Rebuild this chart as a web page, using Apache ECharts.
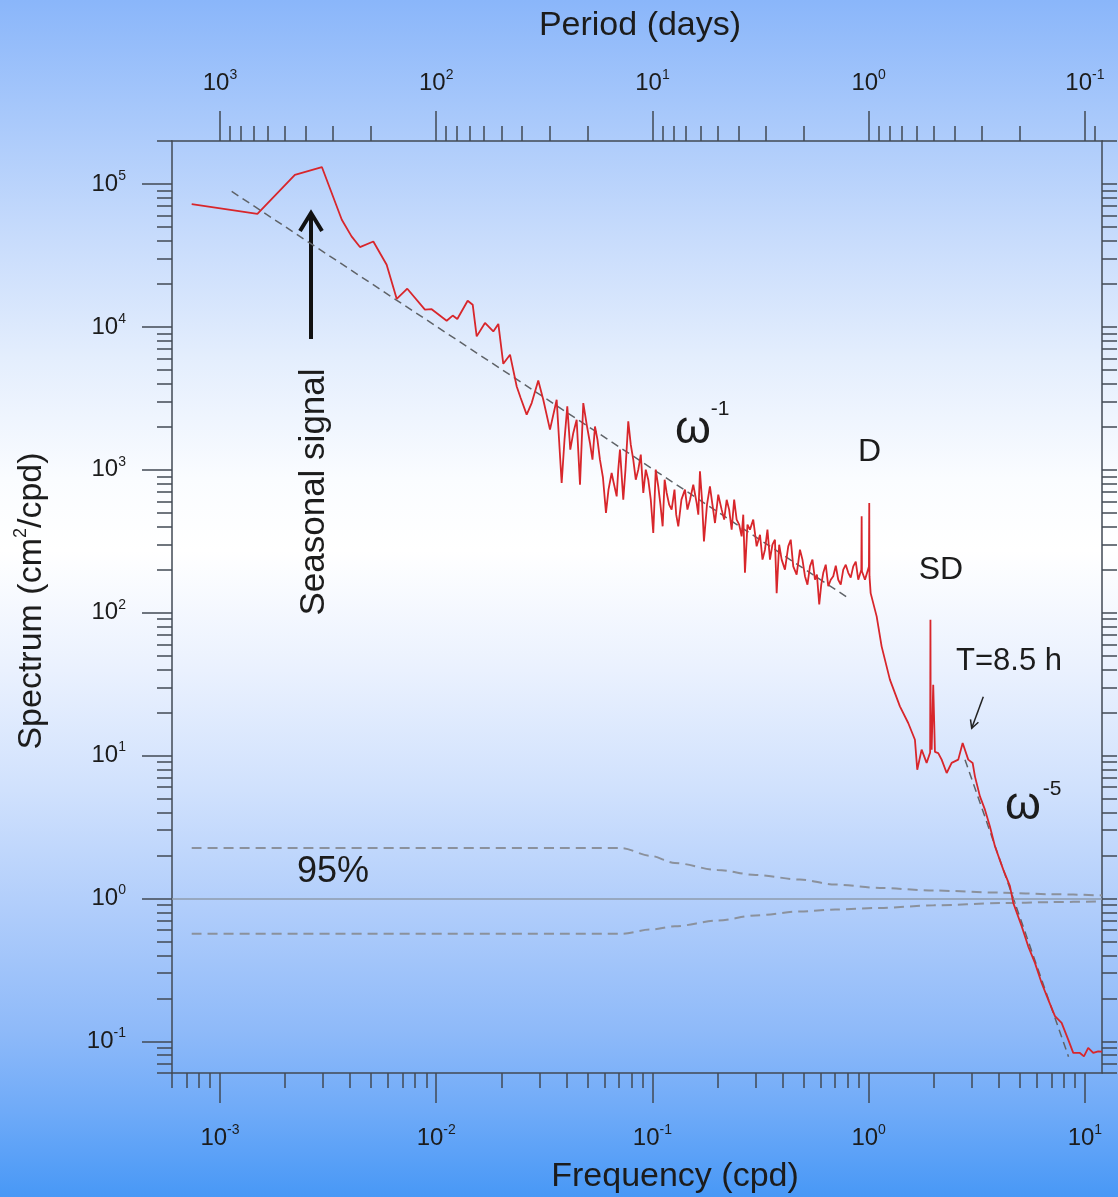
<!DOCTYPE html>
<html><head><meta charset="utf-8">
<script src="https://cdn.jsdelivr.net/npm/echarts@6/dist/echarts.min.js"></script>
<style>html,body{margin:0;padding:0;width:1118px;height:1197px;overflow:hidden}#c{width:1118px;height:1197px}</style>
</head><body><div id="c"></div><script>
// ---------- data ----------
const freq = [0.00074,0.00149,0.00222,0.00296,0.00366,0.00406,0.00444,0.00512,0.0059,0.00657,
0.00735,0.00887,0.00953,0.01118,0.01192,0.01252,0.01398,0.01475,0.01539,0.01681,
0.01837,0.01938,0.02043,0.02195,0.02357,0.02459,0.02621,0.02764,0.02965,0.03128,
0.03359,0.03607,
0.03804,0.03921,0.04039,0.0417,0.04305,0.04463,0.04624,0.04789,0.04966,0.05142,
0.05282,0.05424,0.05569,0.05719,0.05906,0.06098,0.06264,0.06478,0.06604,0.06835,
0.0695,0.07078,0.07331,0.07505,0.07732,0.07941,0.08155,0.08375,0.08602,0.08834,
0.09073,0.09315,0.09567,0.09826,0.1009,0.1036,0.1064,0.1089,0.1115,0.1139,
0.1164,0.1195,0.1227,0.1265,0.1288,0.1317,0.1362,0.1414,0.1452,0.1492,
0.1545,0.1602,0.163,0.1659,0.1695,0.1731,0.1788,0.1845,0.1895,0.1947,
0.2016,0.209,0.2147,0.2205,0.2264,0.2325,0.2388,0.2452,0.2519,0.2586,
0.2631,0.2679,0.2751,0.2825,0.2926,0.3034,0.3144,0.3229,0.3315,0.3404,
0.3497,0.359,0.3687,0.3755,0.3856,0.396,0.4101,0.4248,0.4362,0.448,
0.4645,0.4812,0.4941,0.5075,0.5212,0.5353,0.5497,0.5646,0.5766,0.5908,
0.6036,0.6168,0.6332,0.6504,0.6679,0.686,0.7047,0.7234,0.743,0.7631,
0.7837,0.8049,0.8263,0.8488,0.8717,0.8952,
0.925,0.9282,0.931,0.9614,1.003,1.0064,1.009,1.0215,1.089,
1.148,1.254,1.395,1.524,1.637,1.678,1.758,1.854,1.925,1.931,
1.937,1.956,1.989,2.026,2.098,2.176,2.295,2.42,2.597,2.721,
2.888,3.026,3.101,3.271,3.45,3.638,3.837,4.193,4.502,4.664,
5.101,5.47,5.875,6.31,6.768,7.27,7.806,8.375,8.834,9.487,
9.899,10.36,10.93,11.53,11.99];
const spec = [72400,61900,116000,131500,56200,43000,36200,39600,27200,15700,
18500,13200,13300,11050,12000,11350,15250,14300,8580,10650,
9300,10480,5520,6390,3830,3180,2430,2930,4220,3090,
1910,3090,
808,1624,2780,1383,1810,2242,787,2930,2068,1540,
1177,2010,1624,1177,880,499,726,950,825,651,
1002,1383,617,1002,2181,1498,1177,852,1002,1276,
688,1002,852,618,361,1002,765,570,402,852,
688,570,526,726,485,402,618,726,526,617,
786,585,485,975,618,315,570,765,570,424,
669,526,448,617,526,381,618,448,413,342,
485,190,413,381,448,291,351,235,276,381,
235,299,324,137,299,235,200,291,324,211,
184.5,276,235,180,157,211,235,170,184.5,114,
157,190,216.7,153,170,180,213,170,157,200,
216.7,190,175.8,211,227.5,170,
200,472,195,170,210,586,180,137,94.2,
58.1,34.0,22.1,16.9,12.9,7.96,11.0,8.88,10.5,89.3,
12.0,11.0,31.3,10.6,10.4,9.36,7.55,8.88,9.36,12.25,
9.36,8.88,7.15,5.18,4.18,3.19,2.32,1.59,1.22,0.93,
0.638,0.462,0.354,0.256,0.196,0.150,0.1345,0.1027,0.0829,0.0829,
0.0785,0.0899,0.0829,0.0851,0.0846];
// omega^-1 and omega^-5 reference slopes (end points)
const fitLowFreq = [0.001133, 0.805];
const fitLowSpec = [88750, 126.7];
const fitHighFreq = [2.79, 8.40];
const fitHighSpec = [9.35, 0.078];
// 95% confidence band
const ciFreq  = [0.00074, 0.0722, 0.0974, 0.127, 0.2, 0.3, 0.481, 0.7, 1.127, 2.0, 4.05, 7.0, 12.0];
const ciUpper = [2.25, 2.25, 1.99, 1.77, 1.58, 1.46, 1.355, 1.25, 1.184, 1.135, 1.098, 1.07, 1.05];
const ciLower = [0.565, 0.565, 0.605, 0.638, 0.70, 0.76, 0.81, 0.835, 0.858, 0.895, 0.927, 0.942, 0.955];
// axes
const freqRange = [6e-4, 12];
const specRange = [0.06, 2e5];
const freqDecades = [-3, -2, -1, 0, 1];
const periodDecades = [3, 2, 1, 0, -1];
const specDecades = [-1, 0, 1, 2, 3, 4, 5];
const minorMult = [2, 3, 4, 5, 6, 7, 8, 9];

if (freq.length !== spec.length) throw new Error('length mismatch ' + freq.length + ' vs ' + spec.length);

// ---------- build ----------
const L = Math.log10;
const XMIN = L(freqRange[0]), XMAX = L(freqRange[1]);
const YMIN = L(specRange[0]), YMAX = L(specRange[1]);
const FF = '"Liberation Sans", Arial, Helvetica, sans-serif';
const TXT = '#1c1c1c';
const AX = '#424a54';
const EPS = 1e-7;

function minorLogs(lo, hi, n0, n1, sign) {
  const out = [];
  for (let n = n0; n <= n1; n++) for (const k of minorMult) {
    const v = sign * (L(k) + n);
    if (v >= lo - EPS && v <= hi + EPS) out.push(v);
  }
  return out;
}
const xMajor = freqDecades.slice();
const xMinor = minorLogs(XMIN, XMAX, -5, 2, 1);
const topMajor = periodDecades.map(e => -e);
const topMinor = minorLogs(XMIN, XMAX, -3, 4, -1);
const yMajor = specDecades.slice();
const yMinor = minorLogs(YMIN, YMAX, -3, 6, 1);

const tickRich = {
  b: {fontFamily: FF, fontSize: 24, color: TXT, lineHeight: 30},
  s: {fontFamily: FF, fontSize: 14, color: TXT, verticalAlign: 'top', lineHeight: 18}
};
const sup = e => '{b|10}{s|' + e + '}';
const lineS = {color: AX, width: 1.5};

function axis(pos, min, max, major, minor, len, label) {
  return [{
    type: 'value', position: pos, min: min, max: max,
    axisLine: {show: true, onZero: false, lineStyle: lineS},
    axisTick: {show: true, customValues: major, length: len, lineStyle: lineS},
    axisLabel: label ? Object.assign({customValues: major, rich: tickRich}, label) : {show: false},
    splitLine: {show: false}
  }, {
    type: 'value', position: pos, min: min, max: max,
    axisLine: {show: false, onZero: false},
    axisTick: {show: true, customValues: minor, length: 15, lineStyle: lineS},
    axisLabel: {show: false},
    splitLine: {show: false}
  }];
}

const xAxes = [].concat(
  axis('bottom', XMIN, XMAX, xMajor, xMinor, 30, {margin: 50, formatter: v => sup(Math.round(v))}),
  axis('top', XMIN, XMAX, topMajor, topMinor, 30, {margin: 43, formatter: v => sup(Math.round(-v) || 0)})
);
const yAxes = [].concat(
  axis('left', YMIN, YMAX, yMajor, yMinor, 30, {margin: 46, formatter: v => sup(Math.round(v))}),
  axis('right', YMIN, YMAX, yMajor, yMinor, 15, null)
);

const toXY = (fs, ss) => fs.map((f, i) => [L(f), L(ss[i])]);

const dashGray = {color: '#5f6368', width: 1.5, type: [8, 5]};
const ciStyle = {color: '#8b919c', width: 2, type: [10, 6]};

const option = {
  animation: false,
  backgroundColor: {
    type: 'linear', x: 0, y: 0, x2: 0, y2: 1,
    colorStops: [
      {offset: 0, color: '#8ab6fa'},
      {offset: 0.1, color: '#a9c9fb'},
      {offset: 0.2, color: '#c8dcfc'},
      {offset: 0.3, color: '#e4eefd'},
      {offset: 0.4, color: '#fafcff'},
      {offset: 0.46, color: '#ffffff'},
      {offset: 0.56, color: '#eaf1fe'},
      {offset: 0.66, color: '#d0e1fd'},
      {offset: 0.76, color: '#b0cdfb'},
      {offset: 0.86, color: '#8fbaf9'},
      {offset: 0.93, color: '#6eaaf8'},
      {offset: 1, color: '#4898f6'}
    ]
  },
  grid: {left: 172, top: 141, right: 16, bottom: 124, containLabel: false},
  xAxis: xAxes,
  yAxis: yAxes,
  series: [
    {type: 'line', name: 'ci-upper', data: toXY(ciFreq, ciUpper), smooth: 0.3, smoothMonotone: 'x',
     showSymbol: false, lineStyle: ciStyle, z: 2, silent: true},
    {type: 'line', name: 'ci-lower', data: toXY(ciFreq, ciLower), smooth: 0.3, smoothMonotone: 'x',
     showSymbol: false, lineStyle: ciStyle, z: 2, silent: true,
     markLine: {silent: true, symbol: 'none', label: {show: false},
       lineStyle: {color: '#8e9bad', width: 1.5, type: 'solid'}, data: [{yAxis: 0}]}},
    {type: 'line', name: 'w-1', data: toXY(fitLowFreq, fitLowSpec), showSymbol: false,
     lineStyle: dashGray, z: 3, silent: true},
    {type: 'line', name: 'w-5', data: toXY(fitHighFreq, fitHighSpec), showSymbol: false,
     lineStyle: dashGray, z: 3, silent: true},
    {type: 'line', name: 'spectrum', data: toXY(freq, spec), showSymbol: false,
     lineStyle: {color: '#d8262b', width: 1.8}, z: 5, silent: true}
  ],
  graphic: [
    {type: 'text', x: 640, y: 26, style: {text: 'Period (days)', font: '34px ' + FF, fill: TXT, align: 'center', verticalAlign: 'middle'}},
    {type: 'text', x: 675, y: 1177, style: {text: 'Frequency (cpd)', font: '34px ' + FF, fill: TXT, align: 'center', verticalAlign: 'middle'}},
    {type: 'text', x: 32, y: 601, rotation: Math.PI / 2, style: {text: '{a|Spectrum (cm}{s|2}{a|/cpd)}', align: 'center', verticalAlign: 'middle',
      rich: {a: {fontFamily: FF, fontSize: 34, fill: TXT, lineHeight: 40}, s: {fontFamily: FF, fontSize: 18, fill: TXT, verticalAlign: 'top', lineHeight: 20}}}},
    {type: 'text', x: 314, y: 492, rotation: Math.PI / 2, style: {text: 'Seasonal signal', font: '35px ' + FF, fill: TXT, align: 'center', verticalAlign: 'middle'}},
    {type: 'polyline', shape: {points: [[311, 339], [311, 214]]}, style: {stroke: '#111', lineWidth: 4, fill: null}},
    {type: 'polyline', shape: {points: [[300, 231], [311, 213], [322, 231]]}, style: {stroke: '#111', lineWidth: 4, fill: null, lineJoin: 'miter'}},
    {type: 'text', x: 693, y: 430, style: {text: 'ω', font: '46px ' + FF, fill: TXT, align: 'center', verticalAlign: 'middle'}},
    {type: 'text', x: 720, y: 409, style: {text: '-1', font: '21px ' + FF, fill: TXT, align: 'center', verticalAlign: 'middle'}},
    {type: 'text', x: 869.5, y: 452, style: {text: 'D', font: '32px ' + FF, fill: TXT, align: 'center', verticalAlign: 'middle'}},
    {type: 'text', x: 941, y: 570, style: {text: 'SD', font: '32px ' + FF, fill: TXT, align: 'center', verticalAlign: 'middle'}},
    {type: 'text', x: 1009, y: 661, style: {text: 'T=8.5 h', font: '31px ' + FF, fill: TXT, align: 'center', verticalAlign: 'middle'}},
    {type: 'polyline', shape: {points: [[983.3, 696.7], [971.7, 728.3]]}, style: {stroke: '#222', lineWidth: 1.5, fill: null}},
    {type: 'polyline', shape: {points: [[978.4, 722.3], [971.7, 728.3], [970.5, 719.4]]}, style: {stroke: '#222', lineWidth: 1.5, fill: null}},
    {type: 'text', x: 1023, y: 806, style: {text: 'ω', font: '46px ' + FF, fill: TXT, align: 'center', verticalAlign: 'middle'}},
    {type: 'text', x: 1052, y: 789, style: {text: '-5', font: '21px ' + FF, fill: TXT, align: 'center', verticalAlign: 'middle'}},
    {type: 'text', x: 333, y: 872, style: {text: '95%', font: '36px ' + FF, fill: TXT, align: 'center', verticalAlign: 'middle'}}
  ]
};

const chart = echarts.init(document.getElementById('c'), null, {renderer: 'canvas'});
chart.setOption(option);
</script></body></html>
